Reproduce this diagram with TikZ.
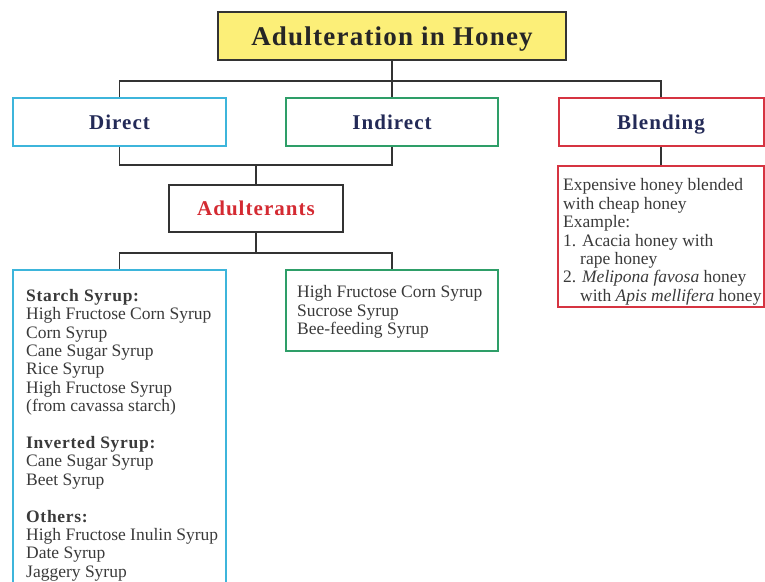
\documentclass[tikz,border=0pt]{standalone}
\usepackage{fontspec}
\setmainfont{Liberation Serif}
\definecolor{titleyellow}{HTML}{FCEF78}
\definecolor{boxcyan}{HTML}{3DB5DB}
\definecolor{boxgreen}{HTML}{2E9E68}
\definecolor{boxred}{HTML}{D63441}
\definecolor{headnavy}{HTML}{232A57}
\definecolor{adred}{HTML}{D42A32}
\definecolor{linegray}{HTML}{333333}
\definecolor{textgray}{HTML}{3A3A3A}
\newcommand{\subhead}[1]{{\bfseries\addfontfeatures{LetterSpace=4}#1}}
\begin{document}
\begin{tikzpicture}[x=1pt,y=-1pt,
        frame/.style = {draw, line width=2pt, inner sep=0pt},
        head/.style = {frame, minimum height=48pt, text=headnavy, text height=14.5pt, text depth=0pt,
            font=\fontsize{21}{24}\selectfont\bfseries\addfontfeatures{LetterSpace=5}},
        listtext/.style = {anchor=north west, align=left, inner sep=0pt, text=textgray,
            font=\fontsize{17.5}{18.4}\selectfont},
        link/.style = {draw=linegray, line width=1.5pt}]
    \useasboundingbox (0,0) rectangle (765,581);
    \clip (0,0) rectangle (765,581);

    % top row
    \node[frame, draw=linegray, fill=titleyellow, minimum width=348pt, minimum height=48pt,
        text=black!85, text height=18.5pt, text depth=0pt,
        font=\fontsize{27}{30}\selectfont\bfseries\addfontfeatures{LetterSpace=4.5}]
        (title) at (392,36) {Adulteration in Honey};
    \node[head, draw=boxcyan, minimum width=213pt] (direct) at (119.5,122) {Direct};
    \node[head, draw=boxgreen, minimum width=212pt] (indirect) at (392,122) {Indirect};
    \node[head, draw=boxred, minimum width=205pt] (blend) at (661,122) {Blending};
    \node[head, draw=linegray, minimum width=174pt, minimum height=47pt, text=adred]
        (adult) at (256,208.5) {Adulterants};

    % lists
    \node[frame, draw=boxcyan, minimum width=213pt, minimum height=330pt] (directlist) at (119.5,435) {};
    \node[frame, draw=boxgreen, minimum width=212pt, minimum height=81pt] (indirectlist) at (392,310.5) {};
    \node[frame, draw=boxred, minimum width=206pt, minimum height=141pt] (blendlist) at (661,236.5) {};

    \node[listtext] (directtext) at ([shift={(14,20)}]directlist.north west) {%
        \subhead{Starch Syrup:}\\
        High Fructose Corn Syrup\\
        Corn Syrup\\
        Cane Sugar Syrup\\
        Rice Syrup\\
        High Fructose Syrup\\
        (from cavassa starch)\\[18.4pt]
        \subhead{Inverted Syrup:}\\
        Cane Sugar Syrup\\
        Beet Syrup\\[18.4pt]
        \subhead{Others:}\\
        High Fructose Inulin Syrup\\
        Date Syrup\\
        Jaggery Syrup};
    \node[listtext] (indirecttext) at ([shift={(12,16.5)}]indirectlist.north west) {%
        High Fructose Corn Syrup\\
        Sucrose Syrup\\
        Bee-feeding Syrup};
    \node[listtext] (blendtext) at ([shift={(6,13.5)}]blendlist.north west) {%
        Expensive honey blended\\
        with cheap honey\\
        Example:\\
        1. Acacia honey with\\
        \hspace*{17pt}rape honey\\
        2. \textit{Melipona favosa} honey\\
        \hspace*{17pt}with \textit{Apis mellifera} honey};

    % connectors
    \draw[link] (title.south) -- ++(0,20) coordinate (tj);
    \draw[link] (tj) -| (direct.north);
    \draw[link] (tj) -| (blend.north);
    \draw[link] (tj) -- (indirect.north);
    \coordinate (dj) at (256,165);
    \draw[link] (direct.south) |- (dj) -| (indirect.south);
    \draw[link] (dj) -- (adult.north);
    \draw[link] (adult.south) -- ++(0,20) coordinate (aj);
    \draw[link] (aj) -| (directlist.north);
    \draw[link] (aj) -| (indirectlist.north);
    \draw[link] (blend.south) -- (blendlist.north);
\end{tikzpicture}
\end{document}
